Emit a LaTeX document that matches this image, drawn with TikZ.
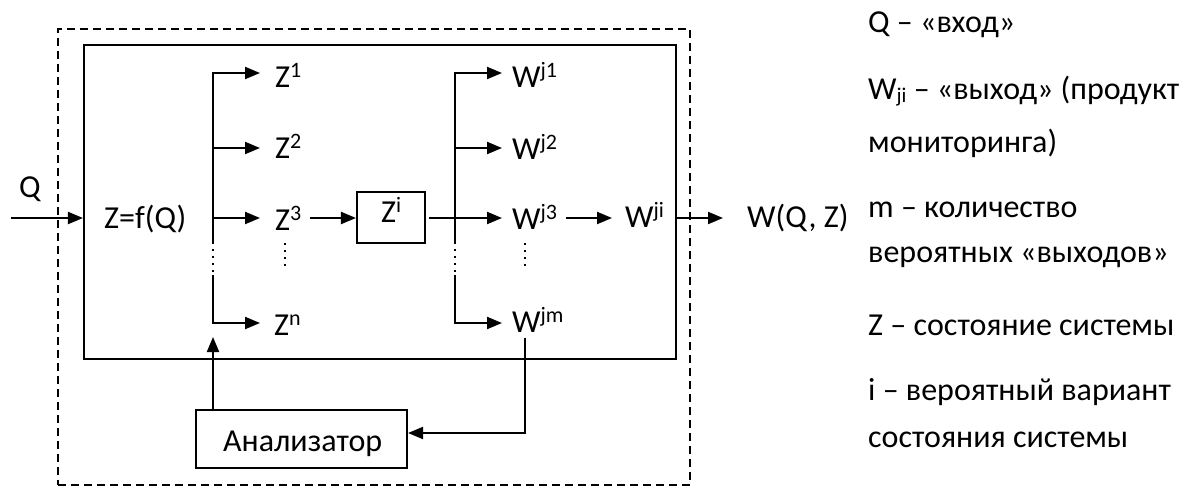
\documentclass[tikz,border=0pt]{standalone}
\usepackage{fontspec}
\setmainfont{Carlito}
\usetikzlibrary{arrows.meta}
\newcommand\upx[1]{\raisebox{10pt}{\fontsize{22}{22}\selectfont #1}}
\newcommand\dnx[1]{\raisebox{-3pt}{\fontsize{21}{21}\selectfont #1}}
\begin{document}
\begin{tikzpicture}[x=1pt,y=-1pt,
  every node/.style={font=\fontsize{32}{38}\selectfont},
  lbl/.style={anchor=base west, inner sep=0pt},
  box/.style={draw, line width=2.1pt, inner sep=0pt},
  arr/.style={line width=2.1pt, -{Triangle[length=15pt,width=12pt]}},
  dotl/.style={line width=1.3pt, dash pattern=on 2pt off 5pt},
]
\useasboundingbox (0,0) rectangle (1185,486);
\fill[white] (0,0) rectangle (1185,486);
% frames
\node[draw, line width=1.7pt, dash pattern=on 8pt off 5pt, minimum width=632pt, minimum height=456pt, inner sep=0pt] (outer) at (374,257) {};
\node[box, minimum width=592pt, minimum height=314pt] (sys) at (380,202) {};
% input
\node[lbl] (q) at (19,198) {Q};
\coordinate (qin) at (11,218);
\draw[arr] (qin) -- (qin -| sys.west);
\node[lbl] (zf) at (104,229) {Z=f(Q)};
% Z branch
\coordinate (zb2) at (213,148);
\coordinate (zb3) at (213,218);
\coordinate (zg1) at (213,242);
\coordinate (zg2) at (213,275);
\coordinate (zt1) at (260,73);
\coordinate (zt2) at (260,148);
\coordinate (zt3) at (260,218);
\coordinate (ztn) at (260,323);
\draw[arr] (zg1) |- (zt1);
\draw[arr] (zb2) -- (zt2);
\draw[arr] (zb3) -- (zt3);
\draw[dotl] (zg1) -- (zg2);
\draw[arr] (zg2) |- (ztn);
\node[lbl] (z1) at (275,88) {Z\upx{1}};
\node[lbl] (z2) at (275,159) {Z\upx{2}};
\node[lbl] (z3) at (275,231) {Z\upx{3}};
\node[lbl] (zn) at (274,335) {Z\upx{n}};
\coordinate (zd1) at (285,243);
\coordinate (zd2) at (285,267);
\draw[dotl] (zd1) -- (zd2);
% Zi
\node[box, minimum width=68pt, minimum height=51pt] (zi) at (391,217.5) {};
\node[lbl] (zit) at (381,223) {Z\upx{i}};
\coordinate (z3o) at (310,218);
\draw[arr] (z3o) -- (z3o -| zi.west);
% W branch
\coordinate (zio) at (429,218);
\coordinate (wb2) at (455,148);
\coordinate (wg1) at (455,242);
\coordinate (wg2) at (455,275);
\coordinate (wt1) at (502,73);
\coordinate (wt2) at (502,148);
\coordinate (wt3) at (502,218);
\coordinate (wtm) at (502,323);
\draw[arr] (wg1) |- (wt1);
\draw[arr] (wb2) -- (wt2);
\draw[arr] (zio) -- (wt3);
\draw[dotl] (wg1) -- (wg2);
\draw[arr] (wg2) |- (wtm);
\node[lbl] (w1) at (512,88) {W\upx{j1}};
\node[lbl] (w2) at (512,160) {W\upx{j2}};
\node[lbl] (w3) at (512,230) {W\upx{j3}};
\node[lbl] (wm) at (512,332) {W\upx{jm}};
\coordinate (wd1) at (525,243);
\coordinate (wd2) at (525,267);
\draw[dotl] (wd1) -- (wd2);
\coordinate (w3o) at (566,218);
\coordinate (wjit) at (612,218);
\draw[arr] (w3o) -- (wjit);
\node[lbl] (wji) at (625,228) {W\upx{ji}};
% output
\coordinate (outt) at (723,218);
\draw[arr] (sys.east |- outt) -- (outt);
\node[lbl] (wqz) at (747,228) {W(Q, Z)};
% analyser
\node[box, minimum width=211pt, minimum height=58pt] (an) at (301.5,439) {};
\node[lbl] (ant) at (223,451) {Анализатор};
\coordinate (upt) at (213,337);
\draw[arr] (an.north -| upt) -- (upt);
\coordinate (fb) at (525,338);
\coordinate (fbc) at (525,433);
\draw[arr] (fb) -- (fbc) -- (fbc -| an.east);
% legend
\node[lbl] (l1) at (868,33) {Q – «вход»};
\node[lbl] (l2) at (868,100) {W\dnx{ji} – «выход» (продукт};
\node[lbl] (l3) at (868,153) {мониторинга)};
\node[lbl] (l4) at (868,218) {m – количество};
\node[lbl] (l5) at (868,262) {вероятных «выходов»};
\node[lbl] (l6) at (868,335) {Z – состояние системы};
\node[lbl] (l7) at (868,400) {i – вероятный вариант};
\node[lbl] (l8) at (868,447) {состояния системы};
\end{tikzpicture}
\end{document}
